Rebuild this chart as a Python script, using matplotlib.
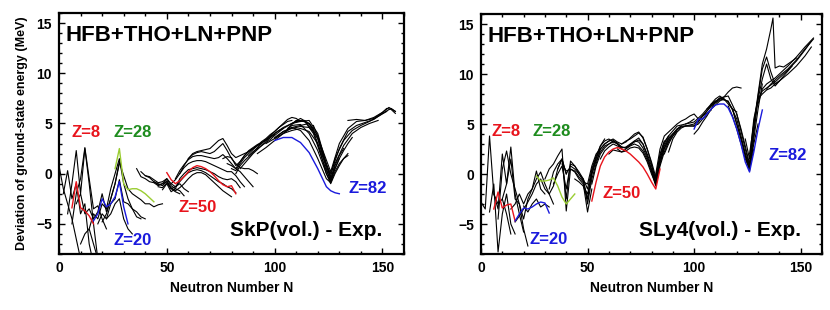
#!/usr/bin/env python

from matplotlib import pyplot as plt
from matplotlib.ticker import MultipleLocator

plt.rcParams['font.family'] = ['Liberation Sans', 'DejaVu Sans']

RED = '#e8141c'
BLUE = '#1a1adc'
LIME = '#9acd32'
GREEN = '#1e8c1e'

# ---- SkP(vol.) - Exp. : magic chains ----
skp_z8_n = [6, 8, 10, 12, 14, 16]
skp_z8_de = [-3.4, -0.8, -3.4, -3.7, -4.2, -5.0]
skp_z20_n = [16, 18, 20, 22, 24, 26, 28, 30, 32]
skp_z20_de = [-4.7, -4.0, -2.5, -3.3, -3.0, -2.3, -0.8, -3.3, -5.0]
skp_z28_n = [26, 28, 30, 32, 34, 36, 38, 40, 42, 44]
skp_z28_de = [0.5, 2.5, -1.0, -1.6, -1.5, -1.5, -1.7, -2.0, -2.4, -2.8]
skp_z50_n = [50, 52, 54, 56, 58, 60, 62, 64, 66, 68, 70, 72, 74, 76, 78, 80, 82]
skp_z50_de = [0.1, -0.6, -1.0, -0.7, -0.3, 0.2, 0.6, 0.8, 0.7, 0.5, 0.2, -0.2, -0.7, -1.1, -1.3, -1.2, -2.0]
skp_z82_n = [100, 104, 108, 112, 116, 120, 124, 126, 128, 130]
skp_z82_de = [3.3, 3.6, 3.6, 3.1, 2.1, 0.5, -1.3, -1.7, -1.9, -2.0]

# ---- SkP(vol.) - Exp. : other isotopic chains (N, deviation) ----
skp_chains = [
  ([0, 2, 4, 6, 8, 10], [0.8, -1.5, -3.0, -4.5, -6.5, -8.5]),
  ([2, 4, 6, 8, 10, 12, 14, 16], [-2.0, 0.3, -2.5, -1.0, -4.0, -3.0, -7.0, -9.0]),
  ([4, 6, 8, 10, 12, 14, 16, 18], [-4.0, -1.0, 2.3, -2.0, 2.5, -1.0, -5.0, -8.5]),
  ([6, 8, 10, 12, 14, 16, 18, 20, 22], [-5.0, -2.0, -0.5, 2.6, -0.5, -3.5, -3.2, -4.5, -5.5]),
  ([8, 10, 12, 14, 16, 18, 20, 22, 24, 26, 28], [-3.0, -2.0, -4.0, -3.5, -4.5, -3.8, -2.0, -3.8, -2.5, -1.0, 1.0]),
  ([10, 12, 14, 16, 18], [-7.0, -6.0, -5.5, -7.0, -8.5]),
  ([14, 16, 18, 20, 22, 24, 26, 28, 30, 32, 34, 36, 38], [-5.5, -4.0, -4.5, -3.0, -3.5, -1.5, 0.0, 1.5, -1.0, -2.5, -3.5, -4.3, -4.5]),
  ([18, 20, 22, 24, 26, 28, 30, 32, 34, 36, 38, 40], [-5.0, -4.0, -4.5, -3.0, -2.5, -0.6, -2.8, -3.0, -3.5, -3.8, -4.3, -4.5]),
  ([20, 22, 24, 26, 28, 30, 32, 34, 36, 38, 40, 42, 44, 46, 48], [-4.8, -4.0, -2.5, -1.0, 1.2, -0.2, -1.5, -2.0, -2.3, -2.6, -3.0, -3.0, -3.3, -3.1, -3.0]),
  ([22, 24, 26, 28, 30, 32, 34], [-4.5, -4.0, -3.0, -2.5, -4.5, -5.5, -6.0]),
  ([36, 38, 40, 42, 44, 46, 48, 50, 52, 54, 56], [0.5, -0.3, -0.5, -0.8, -0.9, -1.2, -1.0, -0.8, -1.5, -1.8, -2.0]),
  ([38, 40, 42, 44, 46, 48, 50, 52, 54, 56, 58], [0.2, -0.2, -0.3, -0.6, -0.9, -0.8, -0.5, -1.2, -1.5, -1.7, -2.2]),
  ([40, 42, 44, 46, 48, 50, 52, 54, 56, 58, 60], [-0.2, -0.4, -0.8, -1.1, -1.0, -0.5, -1.0, -1.3, -1.0, -1.5, -1.8]),
  ([44, 46, 48, 50, 52, 54, 56, 58, 60, 62, 64, 66, 68, 70, 72, 74, 76, 78, 80],
   [-0.8, -1.0, -1.2, -0.7, -1.4, -1.7, -1.4, -1.0, -0.5, -0.1, 0.1, 0.1, -0.1, -0.5, -0.9, -1.3, -1.7, -2.0, -2.3]),
  ([46, 48, 50, 52, 54, 56, 58, 60, 62, 64, 66, 68, 70, 72, 74, 76, 78, 80, 82],
   [-1.3, -1.4, -0.9, -1.5, -1.3, -0.8, -0.3, 0.1, 0.3, 0.4, 0.3, 0.1, -0.2, -0.5, -0.8, -1.0, -1.3, -1.5, -1.9]),
  ([48, 50, 52, 54, 56, 58, 60, 62, 64, 66, 68, 70, 72, 74, 76, 78, 80, 82, 84],
   [-1.6, -1.0, -1.8, -1.5, -0.5, 0.0, 0.4, 0.5, 0.6, 0.5, 0.4, 0.2, 0.0, -0.3, -0.5, -0.6, -0.5, -0.8, -1.4]),
  ([52, 54, 56, 58, 60, 62, 64, 66, 68, 70, 72, 74, 76, 78, 80, 82, 84, 86],
   [-1.0, -0.6, 0.0, 0.6, 1.0, 1.2, 1.3, 1.3, 1.2, 1.0, 0.8, 0.6, 0.4, 0.2, 0.2, -0.2, -0.8, -1.3]),
  ([54, 56, 58, 60, 62, 64, 66, 68, 70, 72, 74, 76, 78, 80, 82, 84, 86, 88, 90],
   [-0.5, 0.3, 0.9, 1.4, 1.7, 1.8, 1.8, 1.7, 1.6, 1.5, 1.6, 1.9, 1.5, 1.0, 0.5, 0.2, -0.3, -0.8, -1.3]),
  ([56, 58, 60, 62, 64, 66, 68, 70, 72, 74, 76, 78, 80, 82, 84, 86, 88, 90, 92],
   [0.0, 0.8, 1.5, 1.9, 2.1, 2.2, 2.1, 2.0, 2.2, 2.6, 3.0, 2.3, 1.5, 1.0, 0.6, 0.5, 0.5, 0.3, 0.0]),
  ([60, 62, 64, 66, 68, 70, 72, 74, 76, 78, 80, 82, 84, 86, 88, 90, 92, 94],
   [1.5, 2.0, 2.2, 2.3, 2.4, 2.5, 2.9, 3.3, 3.5, 2.8, 2.0, 1.6, 1.8, 2.0, 2.2, 2.5, 2.8, 3.0]),
  ([76, 78, 80, 82, 84, 86, 88, 90, 92, 94, 96, 98, 100], [1.5, 1.7, 1.6, 0.8, 1.2, 1.8, 2.3, 2.6, 2.9, 3.1, 3.3, 3.6, 3.9]),
  ([78, 80, 82, 84, 86, 88, 90, 92, 94, 96, 98, 100, 102, 104], [1.0, 0.8, 0.5, 1.2, 1.8, 2.2, 2.5, 2.8, 3.1, 3.4, 3.7, 4.0, 4.3, 4.5]),
  ([80, 82, 84, 86, 88, 90, 92, 94, 96, 98, 100, 102, 104, 106, 108],
   [0.5, 0.3, 1.0, 1.6, 2.0, 2.4, 2.8, 3.2, 3.5, 3.9, 4.2, 4.6, 4.9, 5.2, 5.3]),
  ([82, 84, 86, 88, 90, 92, 94, 96, 98, 100, 102, 104, 106, 108, 110, 112],
   [0.0, 0.8, 1.3, 1.7, 2.1, 2.6, 3.0, 3.4, 3.8, 4.2, 4.6, 5.0, 5.4, 5.6, 5.5, 5.2]),
  ([84, 86, 88, 90, 92, 94, 96, 98, 100, 104, 108, 112, 116, 118],
   [0.5, 1.0, 1.5, 2.0, 2.4, 2.8, 3.2, 3.6, 4.0, 4.6, 5.0, 5.3, 5.0, 4.5]),
  ([88, 90, 92, 94, 96, 98, 100, 104, 108, 112, 116, 120, 122, 124, 126],
   [1.8, 2.2, 2.5, 2.8, 3.1, 3.4, 3.8, 4.5, 5.0, 5.2, 5.3, 4.0, 2.5, 1.0, -0.3]),
  ([92, 96, 100, 104, 108, 112, 116, 120, 124, 126, 128, 130], [2.0, 2.6, 3.3, 4.0, 4.6, 4.8, 5.0, 3.8, 0.8, -0.5, 0.5, 1.5]),
  ([96, 100, 104, 108, 112, 116, 118, 120, 122, 124, 126, 128, 130, 132],
   [3.0, 3.5, 4.2, 4.5, 4.7, 4.6, 4.2, 3.5, 2.0, 0.5, -0.8, 0.8, 1.8, 2.5]),
  ([100, 104, 108, 112, 116, 120, 124, 126, 128, 130, 132, 134], [3.5, 4.0, 4.3, 4.5, 4.2, 3.0, 0.0, -1.0, 0.0, 0.8, 1.5, 1.8]),
  ([100, 104, 108, 112, 116, 120, 124, 126, 128, 130, 132, 134], [3.6, 4.2, 4.6, 4.3, 3.3, 1.5, -0.5, -0.9, 0.2, 1.0, 1.5, 2.0]),
  ([104, 108, 112, 116, 120, 124, 126, 128, 130, 132, 134, 136], [4.0, 4.8, 4.9, 4.0, 2.3, 0.0, -0.8, 0.5, 1.5, 2.3, 3.0, 3.6]),
  ([106, 110, 114, 118, 122, 124, 126, 128, 132, 136, 140, 144, 148], [4.5, 5.3, 5.2, 4.0, 1.5, 0.3, -0.6, 1.0, 2.8, 4.0, 4.6, 5.0, 5.3]),
  ([108, 112, 116, 120, 124, 126, 128, 132, 136, 140, 144, 148, 152], [5.0, 5.5, 5.0, 3.5, 0.8, -0.3, 1.5, 3.3, 4.3, 4.8, 5.2, 5.7, 6.2]),
  ([110, 114, 118, 122, 126, 130, 134, 138, 142, 146, 150, 154, 156], [5.2, 5.3, 4.2, 1.8, 0.0, 2.5, 4.2, 4.8, 5.1, 5.4, 6.0, 6.5, 6.2]),
  ([118, 122, 126, 130, 134, 138, 142, 146, 150, 152, 154, 156], [4.8, 2.5, 0.2, 3.0, 4.5, 5.2, 5.3, 5.6, 6.1, 6.5, 6.4, 6.0]),
  ([134, 138, 142, 146, 150, 153, 156], [5.3, 5.4, 5.3, 5.5, 6.1, 6.6, 6.2]),
]

# ---- SLy4(vol.) - Exp. : magic chains ----
sly_z8_n = [6, 8, 10, 12, 14, 16]
sly_z8_de = [-3.5, -1.8, -3.4, -3.1, -3.0, -4.7]
sly_z20_n = [16, 18, 20, 22, 24, 26, 28, 30, 32]
sly_z20_de = [-4.7, -4.0, -3.4, -3.5, -3.3, -3.0, -2.8, -2.9, -3.9]
sly_z28_n = [26, 28, 30, 32, 34, 36, 38, 40, 42, 44]
sly_z28_de = [-0.2, -0.7, -0.7, -0.6, -0.4, -1.2, -2.3, -3.0, -2.5, -2.0]
sly_z50_n = [52, 54, 56, 58, 60, 62, 64, 66, 68, 70, 72, 74, 76, 78, 80, 82, 84]
sly_z50_de = [-2.7, -0.8, 0.8, 1.7, 2.2, 2.5, 2.65, 2.5, 2.3, 2.0, 1.6, 1.2, 0.7, 0.0, -0.8, -1.5, 0.5]
sly_z82_n = [100, 102, 104, 106, 108, 110, 112, 114, 116, 118, 120, 122, 124, 126, 128, 130, 132]
sly_z82_de = [4.5, 5.5, 5.5, 6.0, 6.5, 6.9, 7.0, 7.0, 6.6, 5.7, 4.5, 3.0, 1.2, 0.2, 2.2, 4.5, 6.4]

# ---- SLy4(vol.) - Exp. : other isotopic chains (N, deviation) ----
sly_chains = [
  ([0, 2, 4, 6, 8, 10, 12, 14], [-2.8, -3.5, 3.8, -2.0, -3.0, -2.5, -4.0, -6.0]),
  ([4, 6, 8, 10, 12, 14, 16], [-3.8, -1.0, -7.8, -4.0, -2.0, -5.0, -6.0]),
  ([6, 8, 10, 12, 14, 16, 18, 20], [-2.0, -3.5, 2.0, -1.0, 2.7, -2.0, -4.0, -5.8]),
  ([8, 10, 12, 14, 16, 18, 20, 22], [-4.5, 0.5, 2.3, 0.0, -1.5, -3.0, -5.5, -7.2]),
  ([10, 12, 14, 16, 18, 20, 22, 24, 26, 28, 30], [-2.5, -1.0, 1.5, -2.5, -3.0, -4.5, -2.5, -1.5, 0.3, -1.5, -2.0]),
  ([14, 16, 18, 20, 22, 24, 26, 28, 30, 32, 34], [-3.5, -3.0, -2.0, -3.0, -2.0, -1.5, -0.5, 0.2, -1.0, -2.0, -3.0]),
  ([16, 18, 20, 22, 24, 26, 28, 30, 32, 34, 36, 38, 40], [-4.8, -4.2, -3.5, -2.8, -2.0, -1.0, -0.5, -1.5, -2.0, -1.2, 0.5, 1.5, 0.0]),
  ([20, 22, 24, 26, 28, 30, 32], [-3.2, -3.8, -3.0, -2.5, -3.3, -3.0, -3.3]),
  ([30, 32, 34, 36, 38, 40, 42, 44, 46, 48, 50, 52], [-0.5, 0.5, 1.0, 1.8, 2.5, -3.7, 0.5, 0.2, -0.5, -1.0, -3.8, -1.5]),
  ([32, 34, 36, 38, 40, 42, 44, 46, 48, 50, 52, 54, 56], [-1.5, 0.2, 1.0, 1.5, -2.5, 1.3, 0.8, 0.2, -0.5, -3.0, -0.5, 1.0, 2.5]),
  ([34, 36, 38, 40, 42, 44, 46, 48, 50, 52, 54, 56, 58], [-1.0, 0.0, 0.8, -1.5, 1.0, 0.8, 0.0, -0.7, -2.5, 0.0, 1.5, 2.8, 3.5]),
  ([36, 38, 40, 42, 44, 46, 48, 50, 52, 54, 56, 58, 60, 62], [0.5, 1.5, 0.0, 0.8, 0.5, 0.0, -0.5, -1.5, 0.5, 1.8, 2.8, 3.3, 3.5, 3.2]),
  ([38, 40, 42, 44, 46, 48, 50, 52, 54, 56, 58, 60, 62, 64, 66], [1.0, 0.3, 0.5, 0.3, -0.3, -0.8, -1.0, 0.8, 2.0, 2.5, 3.0, 3.3, 3.4, 3.0, 2.5]),
  ([44, 46, 48, 50, 52, 54, 56, 58, 60, 62, 64, 66, 68, 70, 72, 74, 76, 78, 80, 82, 84],
   [-0.5, -0.8, -1.2, -2.0, 0.0, 1.3, 2.2, 2.8, 3.0, 3.2, 3.0, 2.7, 2.6, 2.9, 3.3, 3.6, 3.0, 1.8, 0.5, -1.0, 1.0]),
  ([48, 50, 52, 54, 56, 58, 60, 62, 64, 66, 68, 70, 72, 74, 76, 78, 80, 82, 84, 86],
   [-1.2, -2.5, 0.3, 1.6, 2.5, 3.0, 3.3, 3.5, 3.2, 3.0, 3.2, 3.6, 4.0, 4.2, 3.6, 2.5, 1.2, -0.3, 2.0, 3.3]),
  ([52, 54, 56, 58, 60, 62, 64, 66, 68, 70, 72, 74, 76, 78, 80, 82, 84, 86, 88],
   [-1.0, 0.8, 2.0, 2.6, 3.0, 3.3, 3.1, 2.7, 2.6, 2.9, 3.2, 3.4, 3.0, 2.0, 0.8, -0.5, 1.8, 3.2, 3.8]),
  ([56, 58, 60, 62, 64, 66, 68, 70, 72, 74, 76, 78, 80, 82, 84, 86, 88, 90],
   [1.5, 2.3, 2.7, 3.0, 2.8, 2.6, 2.7, 3.0, 3.3, 3.2, 2.6, 1.6, 0.4, -1.0, 1.2, 2.6, 3.5, 4.0]),
  ([60, 62, 64, 66, 68, 70, 72, 74, 76, 78, 80, 82, 84, 86, 88, 90, 92],
   [2.0, 2.4, 2.3, 2.2, 2.5, 2.8, 3.0, 2.8, 2.3, 1.4, 0.2, -1.2, 0.8, 2.2, 3.2, 3.8, 4.3]),
  ([64, 66, 68, 70, 72, 74, 76, 78, 80, 82, 84, 86, 88, 90, 92, 94],
   [2.5, 2.2, 2.3, 2.6, 2.7, 2.6, 2.1, 1.2, 0.0, -1.0, 1.5, 2.8, 3.6, 4.0, 4.5, 4.8]),
  ([66, 68, 70, 72, 74, 76, 78, 80, 82], [3.0, 3.3, 3.5, 3.8, 4.1, 3.7, 2.5, 1.0, -0.8]),
  ([80, 82, 84, 86, 88, 90, 92, 94, 96, 98, 100], [0.5, -0.8, 1.5, 3.0, 3.8, 4.3, 4.8, 4.9, 5.0, 5.2, 5.5]),
  ([82, 84, 86, 88, 90, 92, 94, 96, 98, 100, 102], [0.0, 2.5, 3.8, 4.2, 4.6, 5.0, 5.3, 5.5, 5.8, 6.0, 5.5]),
  ([84, 86, 88, 90, 92, 94, 96, 98, 100, 102, 104, 106], [1.0, 2.5, 3.3, 4.0, 4.5, 4.8, 4.8, 4.8, 4.8, 5.0, 5.5, 6.0]),
  ([86, 88, 90, 92, 94, 96, 98, 100, 104, 108], [2.0, 3.0, 3.8, 4.4, 4.7, 4.8, 4.9, 5.0, 5.8, 6.4]),
  ([88, 90, 92, 94, 96, 98, 100, 102, 104, 108, 112], [2.2, 3.5, 4.2, 4.6, 4.8, 4.8, 4.8, 5.2, 5.8, 6.8, 7.4]),
  ([96, 100, 104, 108, 112, 116, 120, 122, 124, 126, 128], [5.0, 5.2, 6.0, 7.0, 7.5, 7.3, 5.5, 3.8, 2.0, 0.5, 2.5]),
  ([100, 104, 108, 112, 116, 120, 122, 124, 126, 128, 130], [4.8, 5.8, 6.8, 7.6, 7.8, 6.0, 4.3, 2.5, 0.8, 3.0, 5.0]),
  ([104, 108, 112, 114, 116, 118, 120, 122, 124, 126, 128, 130, 132], [5.5, 6.5, 7.3, 7.5, 7.2, 6.5, 5.0, 3.5, 1.8, 0.3, 3.5, 6.5, 9.0]),
  ([108, 110, 112, 114, 116, 118, 120], [7.0, 7.5, 7.8, 7.5, 7.0, 6.5, 6.2]),
  ([106, 110, 114, 116, 118, 120, 122], [6.5, 7.3, 7.7, 8.2, 8.6, 8.7, 8.6]),
  ([100, 102, 104, 106, 108, 110, 112, 114], [4.0, 4.5, 5.2, 5.8, 6.5, 7.2, 7.6, 7.5]),
  ([116, 118, 120, 122, 124, 126, 128, 130, 132, 134, 136, 138, 140], [6.8, 5.8, 4.5, 3.0, 1.5, 0.5, 4.0, 7.5, 9.5, 11.0, 9.5, 8.8, 9.3]),
  ([118, 120, 122, 124, 126, 128, 130, 132, 134, 136, 138, 140, 142, 144, 146],
   [6.5, 5.0, 3.5, 2.0, 0.8, 4.5, 7.8, 10.5, 11.7, 10.2, 9.0, 9.3, 9.8, 10.3, 10.8]),
  ([120, 122, 124, 126, 128, 130, 132, 134, 136, 137, 138, 140, 142, 144, 146, 148],
   [6.0, 4.5, 2.8, 1.0, 5.0, 8.0, 11.0, 12.5, 14.5, 15.6, 10.6, 10.8, 10.7, 11.0, 11.3, 11.6]),
  ([124, 126, 128, 130, 132, 134, 136, 138, 140, 144, 148, 152, 155], [3.5, 1.5, 5.5, 7.5, 8.0, 8.4, 8.6, 9.0, 9.3, 10.0, 10.8, 11.8, 12.7]),
  ([126, 128, 130, 132, 134, 136, 138, 140, 144, 148, 152, 155], [2.0, 5.0, 7.5, 8.3, 8.6, 8.9, 9.2, 9.6, 10.4, 11.3, 12.4, 13.3]),
  ([130, 132, 134, 136, 138, 140, 144, 148, 152, 156], [7.0, 8.5, 9.0, 9.3, 9.6, 10.0, 10.8, 11.7, 12.7, 13.6]),
  ([134, 136, 138, 140, 144, 148, 152, 156], [8.5, 9.0, 9.4, 9.8, 10.5, 11.4, 12.5, 13.5]),
]

skp_magic = [(skp_z8_n, skp_z8_de, RED), (skp_z20_n, skp_z20_de, BLUE), (skp_z28_n, skp_z28_de, LIME),
             (skp_z50_n, skp_z50_de, RED), (skp_z82_n, skp_z82_de, BLUE)]
sly_magic = [(sly_z8_n, sly_z8_de, RED), (sly_z20_n, sly_z20_de, BLUE), (sly_z28_n, sly_z28_de, LIME),
             (sly_z50_n, sly_z50_de, RED), (sly_z82_n, sly_z82_de, BLUE)]

# label text, colour, N, deviation
skp_labels = [("Z=8", RED, 5.7, 4.1), ("Z=28", GREEN, 25.4, 4.1), ("Z=20", BLUE, 25.4, -6.7),
              ("Z=50", RED, 55.4, -3.4), ("Z=82", BLUE, 134.1, -1.5)]
sly_labels = [("Z=8", RED, 5.0, 4.3), ("Z=28", GREEN, 24.3, 4.3), ("Z=20", BLUE, 22.7, -6.5),
              ("Z=50", RED, 56.8, -2.0), ("Z=82", BLUE, 134.9, 1.85)]


def draw_panel(ax, chains, magic, labels, title):
  for n, de in chains:
    ax.plot(n, de, color='black', lw=0.8)
  for n, de, col in magic:
    ax.plot(n, de, color=col, lw=1.0)
  for txt, col, n, de in labels:
    ax.text(n, de, txt, color=col, fontsize=12, fontweight='bold', va='center')
  ax.text(3, 13.8, "HFB+THO+LN+PNP", fontsize=16, fontweight='bold', va='center')
  ax.text(150, -6.2, title, fontsize=15, fontweight='bold', ha='right', va='baseline')
  ax.set_xlim(0, 160)
  ax.set_ylim(-8, 16)
  ax.xaxis.set_major_locator(MultipleLocator(50))
  ax.xaxis.set_minor_locator(MultipleLocator(10))
  ax.yaxis.set_major_locator(MultipleLocator(5))
  ax.yaxis.set_minor_locator(MultipleLocator(1))
  ax.tick_params(which='both', direction='in', top=True, right=True, width=1.0)
  ax.tick_params(which='major', length=4, labelsize=10, pad=5)
  ax.tick_params(which='minor', length=2)
  for lab in ax.get_xticklabels() + ax.get_yticklabels():
    lab.set_fontweight('bold')
  for sp in ax.spines.values():
    sp.set_linewidth(1.6)
  ax.set_xlabel("Neutron Number N", fontsize=10, fontweight='bold', labelpad=4)


if __name__ == '__main__':
  fig = plt.figure(figsize=(8.3, 3.1), dpi=100)
  ax1 = fig.add_axes([59/830, 56/310, 345/830, 241/310])
  ax2 = fig.add_axes([481/830, 56/310, 341/830, 240/310])
  draw_panel(ax1, skp_chains, skp_magic, skp_labels, "SkP(vol.) - Exp.")
  draw_panel(ax2, sly_chains, sly_magic, sly_labels, "SLy4(vol.) - Exp.")
  ax1.set_ylabel("Deviation of ground-state energy (MeV)", fontsize=9, fontweight='bold', labelpad=6)
  fig.savefig("out.png", dpi=100)
